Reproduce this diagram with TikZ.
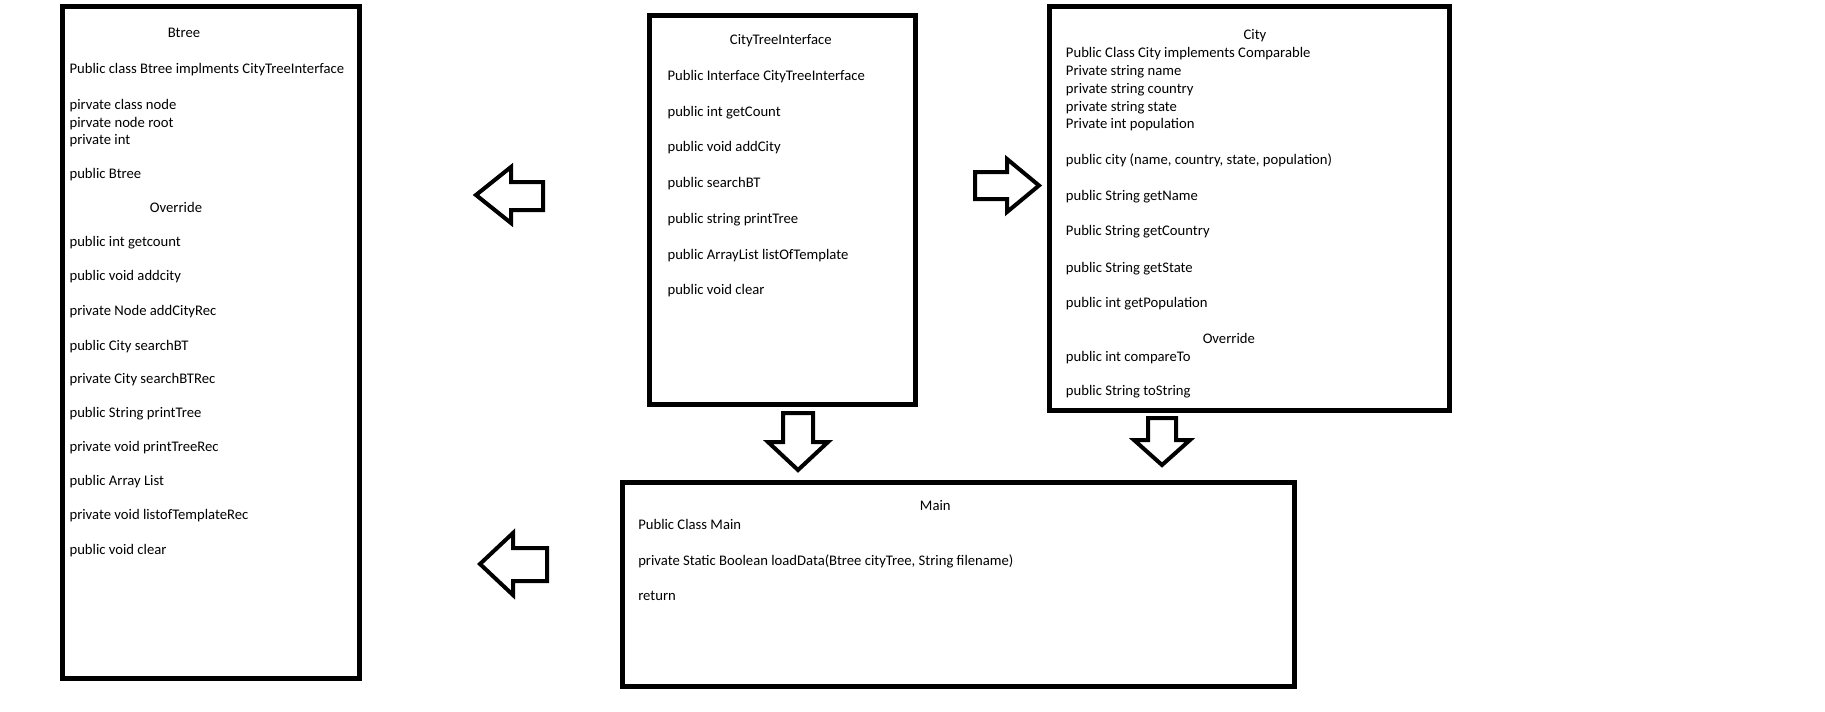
\documentclass[tikz,border=0pt]{standalone}
\usepackage{fontspec}
\setmainfont{Carlito}
\begin{document}
\begin{tikzpicture}[x=0.75pt,y=-0.75pt,
  classbox/.style={draw=black, line width=3.75pt, inner sep=0pt, fill=white},
  txt/.style={anchor=base west, inner sep=0pt, font=\fontsize{11}{13}\selectfont},
  ttl/.style={anchor=base, inner sep=0pt, font=\fontsize{11}{13}\selectfont},
  blockarrow/.style={draw=black, line width=3pt, fill=white, line join=miter}]
\useasboundingbox (0,0) rectangle (1825,711);
\fill[white] (0,0) rectangle (1825,711);

% class boxes
\node[classbox, minimum width=222.75pt, minimum height=504pt] (btree) at (211,342.5) {};
\node[classbox, minimum width=199.5pt, minimum height=291.75pt] (cti) at (782.5,210) {};
\node[classbox, minimum width=300pt, minimum height=303pt] (city) at (1249.5,208.5) {};
\node[classbox, minimum width=504pt, minimum height=153pt] (main) at (958,584) {};

% Btree texts
\node[ttl] (bt-title) at (184,37.4) {Btree};
\node[ttl] (bt-over) at (176,212) {Override};
\foreach \yy/\tt [count=\i] in {
  73/Public class Btree implments CityTreeInterface,
  109.7/pirvate class node,
  127.4/pirvate node root,
  144/private int,
  178.7/public Btree,
  246.4/public int getcount,
  280.7/public void addcity,
  315.7/private Node addCityRec,
  350.2/public City searchBT,
  383/private City searchBTRec,
  417/public String printTree,
  451.4/private void printTreeRec,
  485.4/public Array List,
  519.7/private void listofTemplateRec,
  554/public void clear}
  \node[txt] (bt-\i) at (69.3,\yy) {\tt};

% CityTreeInterface texts
\node[ttl] (ct-title) at (780.8,44.7) {CityTreeInterface};
\foreach \yy/\tt [count=\i] in {
  80.7/Public Interface CityTreeInterface,
  116.4/public int getCount,
  151.4/public void addCity,
  187.4/public searchBT,
  223/public string printTree,
  259.7/public ArrayList listOfTemplate,
  294.7/public void clear}
  \node[txt] (ct-\i) at (667.3,\yy) {\tt};

% City texts
\node[ttl] (cy-title) at (1255,39) {City};
\node[ttl] (cy-over) at (1228.8,343) {Override};
\foreach \yy/\tt [count=\i] in {
  57/Public Class City implements Comparable,
  75.4/Private string name,
  93.4/private string country,
  111.4/private string state,
  128.4/Private int population,
  164/{public city (name, country, state, population)},
  200/public String getName,
  235.7/Public String getCountry,
  272/public String getState,
  307/public int getPopulation,
  361.4/public int compareTo,
  395.4/public String toString}
  \node[txt] (cy-\i) at (1065.7,\yy) {\tt};

% Main texts
\node[ttl] (mn-title) at (935.3,510.7) {Main};
\node[txt] (mn-1) at (638,529) {Public Class Main};
\node[txt] (mn-2) at (638,565.7) {private Static Boolean loadData(Btree cityTree, String filename)};
\node[txt] (mn-3) at (638,600.7) {return};

% block arrows
\draw[blockarrow] (476,195) -- (511,167) -- (511,182) -- (543,182) -- (543,210) -- (511,210) -- (511,223) -- cycle;
\draw[blockarrow] (975,172) -- (1007,172) -- (1007,159) -- (1039,185.5) -- (1007,212) -- (1007,199) -- (975,199) -- cycle;
\draw[blockarrow] (783,413) -- (813,413) -- (813,442) -- (828,442) -- (798,470) -- (768,442) -- (783,442) -- cycle;
\draw[blockarrow] (1148,418) -- (1176,418) -- (1176,440) -- (1190,440) -- (1162,465) -- (1134,440) -- (1148,440) -- cycle;
\draw[blockarrow] (480,564) -- (513,533) -- (513,548) -- (547,548) -- (547,581) -- (513,581) -- (513,595) -- cycle;
\end{tikzpicture}
\end{document}
